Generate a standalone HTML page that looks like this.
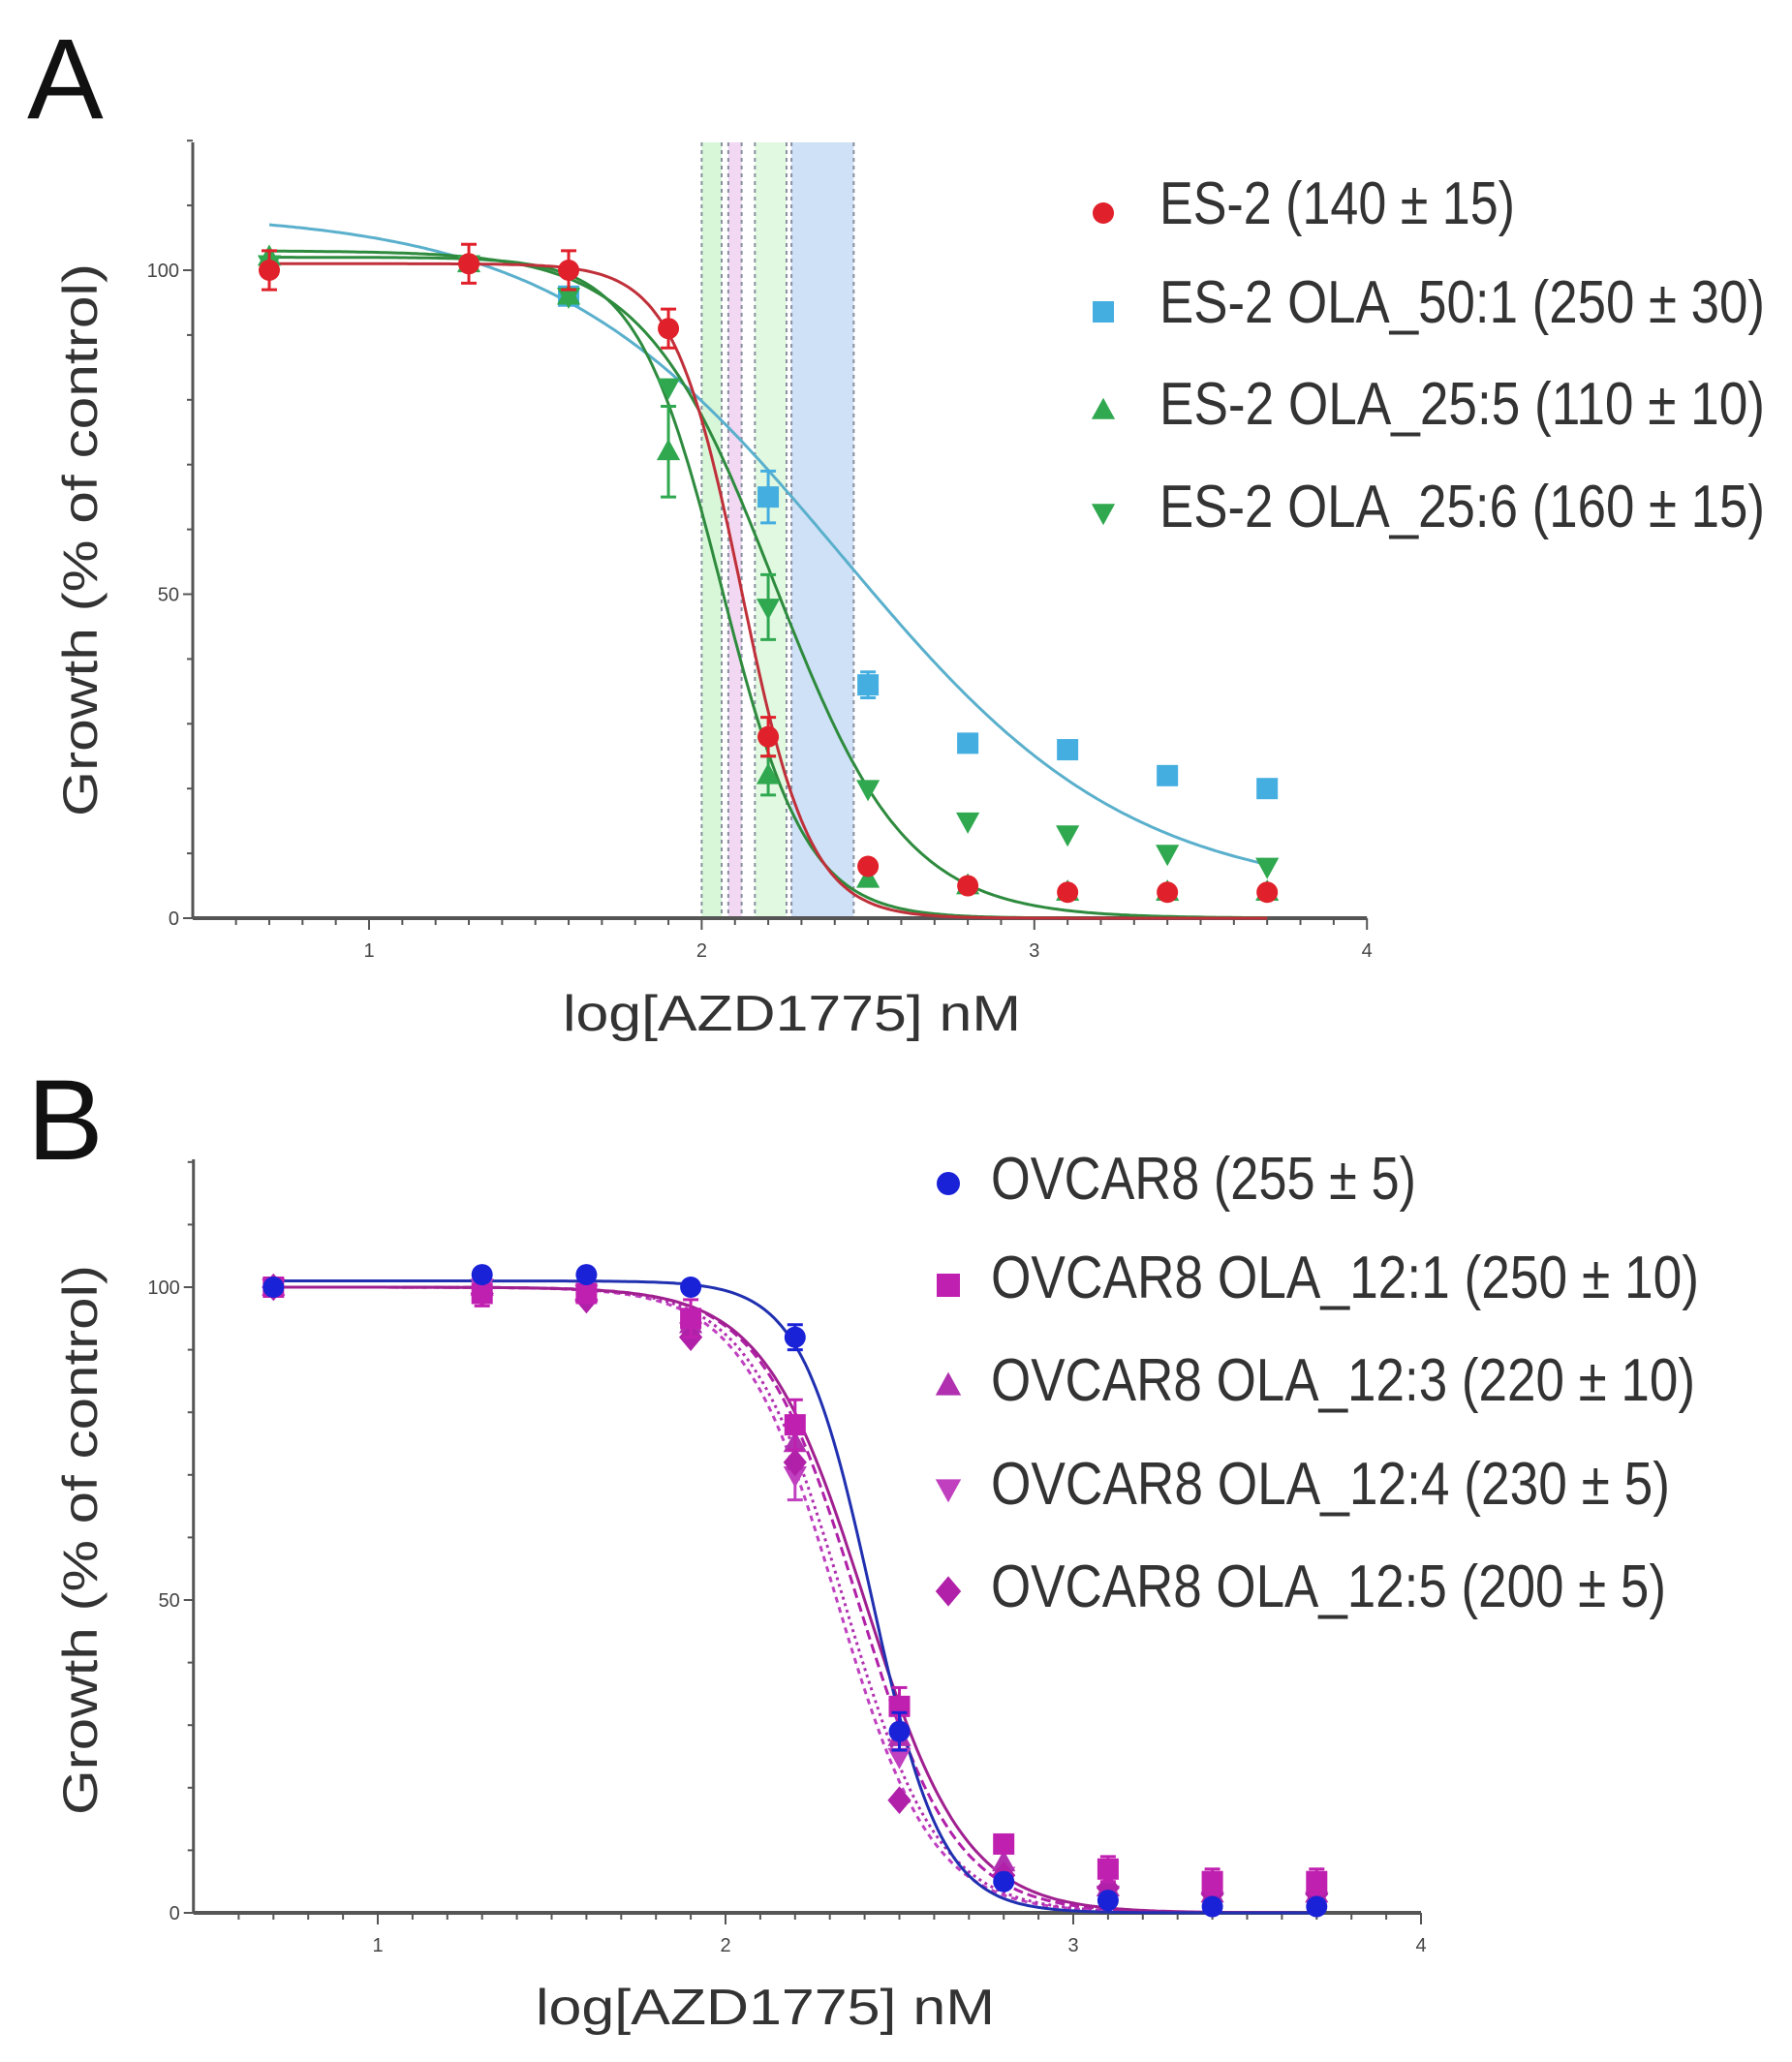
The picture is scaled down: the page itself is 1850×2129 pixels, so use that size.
<!DOCTYPE html>
<html><head><meta charset="utf-8"><style>
html,body{margin:0;padding:0;background:#fff;}
svg{display:block;}
text{font-family:"Liberation Sans",sans-serif;}
</style></head><body>
<svg id="s" width="1850" height="2129" viewBox="0 0 1850 2129" xmlns="http://www.w3.org/2000/svg">
<rect width="1850" height="2129" fill="#fff"/>
<text x="28" y="122" font-size="118" fill="#111">A</text>
<text x="28" y="1197" font-size="118" fill="#111">B</text>
<g id="A"></g>
<g id="B"></g>
<text x="581" y="1064" font-size="52" fill="#333" textLength="473" lengthAdjust="spacingAndGlyphs">log[AZD1775] nM</text>
<text x="553" y="2090" font-size="52" fill="#333" textLength="474" lengthAdjust="spacingAndGlyphs">log[AZD1775] nM</text>
<text transform="translate(100,843) rotate(-90)" font-size="50" fill="#333" textLength="571" lengthAdjust="spacingAndGlyphs">Growth (% of control)</text>
<text transform="translate(100,1874) rotate(-90)" font-size="50" fill="#333" textLength="568" lengthAdjust="spacingAndGlyphs">Growth (% of control)</text>
<g font-size="62" fill="#333">
<text x="1197" y="231" textLength="367" lengthAdjust="spacingAndGlyphs">ES-2 (140 ± 15)</text>
<text x="1197" y="333" textLength="625" lengthAdjust="spacingAndGlyphs">ES-2 OLA_50:1 (250 ± 30)</text>
<text x="1197" y="438" textLength="625" lengthAdjust="spacingAndGlyphs">ES-2 OLA_25:5 (110 ± 10)</text>
<text x="1197" y="544" textLength="625" lengthAdjust="spacingAndGlyphs">ES-2 OLA_25:6 (160 ± 15)</text>
<text x="1023" y="1238" textLength="439" lengthAdjust="spacingAndGlyphs">OVCAR8 (255 ± 5)</text>
<text x="1023" y="1340" textLength="731" lengthAdjust="spacingAndGlyphs">OVCAR8 OLA_12:1 (250 ± 10)</text>
<text x="1023" y="1446" textLength="727" lengthAdjust="spacingAndGlyphs">OVCAR8 OLA_12:3 (220 ± 10)</text>
<text x="1023" y="1553" textLength="701" lengthAdjust="spacingAndGlyphs">OVCAR8 OLA_12:4 (230 ± 5)</text>
<text x="1023" y="1659" textLength="697" lengthAdjust="spacingAndGlyphs">OVCAR8 OLA_12:5 (200 ± 5)</text>
</g>
</svg>
<script>
var NS="http://www.w3.org/2000/svg";
function el(p,t,a){var e=document.createElementNS(NS,t);for(var k in a)e.setAttribute(k,a[k]);p.appendChild(e);return e;}
function marker(g,type,cx,cy,c,r){
 r=r||11;
 if(type=='c')el(g,'circle',{cx:cx,cy:cy,r:r,fill:c});
 else if(type=='s')el(g,'rect',{x:cx-r,y:cy-r,width:2*r,height:2*r,fill:c});
 else if(type=='u')el(g,'polygon',{points:(cx)+','+(cy-r*1.2)+' '+(cx-r*1.1)+','+(cy+r*0.8)+' '+(cx+r*1.1)+','+(cy+r*0.8),fill:c});
 else if(type=='d')el(g,'polygon',{points:(cx)+','+(cy+r*1.2)+' '+(cx-r*1.1)+','+(cy-r*0.8)+' '+(cx+r*1.1)+','+(cy-r*0.8),fill:c});
 else if(type=='m')el(g,'polygon',{points:cx+','+(cy-r*1.3)+' '+(cx+r*1.1)+','+cy+' '+cx+','+(cy+r*1.3)+' '+(cx-r*1.1)+','+cy,fill:c});
}
function panel(g,X,Y,x0,x1,ytop,series,bands){
 (bands||[]).forEach(function(b){
  el(g,'rect',{x:X(b[0]),y:ytop,width:X(b[1])-X(b[0]),height:Y(0)-ytop,fill:b[2],opacity:0.55});
  [b[0],b[1]].forEach(function(v){el(g,'line',{x1:X(v),y1:ytop,x2:X(v),y2:Y(0),stroke:'#8890a0','stroke-width':2,'stroke-dasharray':'4,4'});});
 });
 el(g,'line',{x1:X(x0),y1:ytop,x2:X(x0),y2:Y(0),stroke:'#555','stroke-width':3});
 el(g,'line',{x1:X(x0),y1:Y(0),x2:X(x1),y2:Y(0),stroke:'#555','stroke-width':4});
 for(var p=0;p<=120;p+=10){el(g,'line',{x1:X(x0)-(p%50?6:10),y1:Y(p),x2:X(x0),y2:Y(p),stroke:'#555','stroke-width':2});}
 [0,50,100].forEach(function(p){var t=el(g,'text',{x:X(x0)-14,y:Y(p)+7,'font-size':20,fill:'#444','text-anchor':'end'});t.textContent=p;});
 for(var v=0.6;v<=4.001;v+=0.1){var mj=Math.abs(v-Math.round(v))<0.01;if(v<x0-0.01)continue;
  el(g,'line',{x1:X(v),y1:Y(0),x2:X(v),y2:Y(0)+(mj?12:7),stroke:'#555','stroke-width':2});}
 [1,2,3,4].forEach(function(v){var t=el(g,'text',{x:X(v),y:Y(0)+40,'font-size':20,fill:'#444','text-anchor':'middle'});t.textContent=v;});
 var xs=[0.7,1.3,1.6,1.9,2.2,2.5,2.8,3.1,3.4,3.7];
 series.forEach(function(s){
  var d='';
  for(var v=0.7;v<=3.701;v+=0.01){var y=s.b+(s.t-s.b)/(1+Math.pow(10,(v-s.ic)*s.h));d+=(d?'L':'M')+X(v).toFixed(1)+','+Y(y).toFixed(1);}
  el(g,'path',{d:d,fill:'none',stroke:s.lc||s.c,'stroke-width':3,'stroke-dasharray':s.dash||''});
 });
 series.forEach(function(s){
  s.pts.forEach(function(p,i){
   if(p==null)return;
   if(s.e&&s.e[i]){el(g,'line',{x1:X(xs[i]),y1:Y(p-s.e[i]),x2:X(xs[i]),y2:Y(p+s.e[i]),stroke:s.c,'stroke-width':3});
    el(g,'line',{x1:X(xs[i])-8,y1:Y(p+s.e[i]),x2:X(xs[i])+8,y2:Y(p+s.e[i]),stroke:s.c,'stroke-width':3});
    el(g,'line',{x1:X(xs[i])-8,y1:Y(p-s.e[i]),x2:X(xs[i])+8,y2:Y(p-s.e[i]),stroke:s.c,'stroke-width':3});}
   marker(g,s.m,X(xs[i]),Y(p),s.c,s.r);
  });
 });
}
var A=document.getElementById('A');
var XA=function(v){return 381+(v-1)*343.4;}, YA=function(p){return 948-p*6.69;};
panel(A,XA,YA,0.47,4,147,[
 {c:'#45aee0',lc:'#5ab0cc',m:'s',t:109,b:3,ic:2.42,h:1.0,pts:[null,null,96,null,65,36,27,26,22,20],e:[0,0,0,0,4,2,0,0,0,0]},
 {c:'#2fa84f',lc:'#2e8b3e',m:'u',t:102,b:0,ic:2.06,h:3.4,pts:[102,101,96,72,22,6,5,4,4,4],e:[0,0,0,7,3,0,0,0,0,0]},
 {c:'#2fa84f',lc:'#2e8b3e',m:'d',t:103,b:0,ic:2.22,h:2.2,pts:[101,101,96,82,48,20,15,13,10,8],e:[0,0,0,0,5,0,0,0,0,0]},
 {c:'#e0202a',lc:'#c0303a',m:'c',t:101,b:0,ic:2.12,h:4.2,pts:[100,101,100,91,28,8,5,4,4,4],e:[3,3,3,3,3,0,0,0,0,0]}
],[[2.0,2.06,'#b8f0b8'],[2.08,2.12,'#e8b8e8'],[2.16,2.255,'#c8f4c8'],[2.27,2.457,'#a8c8ee']]);
var B=document.getElementById('B');
var XB=function(v){return 390+(v-1)*359;}, YB=function(p){return 1975-p*6.46;};
panel(B,XB,YB,0.47,4,1197,[
 {c:'#c040c0',m:'d',dash:'6,5',t:100,b:0,ic:2.32,h:3.2,pts:[100,100,99,93,70,25,6,3,2,2],e:[0,0,0,0,4,0,0,0,0,0]},
 {c:'#b030b0',m:'u',dash:'3,4',t:100,b:0,ic:2.34,h:3.2,pts:[100,100,99,94,75,28,8,4,3,3],e:[0,0,0,0,4,0,0,0,0,0]},
 {c:'#b020a8',m:'m',dash:'10,5',t:100,b:0,ic:2.38,h:3.1,pts:[100,99,98,92,72,18,6,4,3,3],e:[0,0,0,0,0,0,0,0,0,0]},
 {c:'#c020b0',lc:'#a02090',m:'s',t:100,b:0,ic:2.4,h:3.0,pts:[100,99,99,95,78,33,11,7,5,5],e:[0,2,0,3,4,3,0,2,2,2]},
 {c:'#1a22d8',lc:'#2030b0',m:'c',t:101,b:0,ic:2.42,h:4.3,pts:[100,102,102,100,92,29,5,2,1,1],e:[0,0,0,0,2,3,0,0,0,0]}
]);
var s=document.getElementById('s');
var la=[['c','#e0202a',220],['s','#45aee0',322],['u','#2fa84f',424],['d','#2fa84f',529]];
la.forEach(function(a){marker(s,a[0],1139,a[2],a[1],11);});
var lb=[['c','#1a22d8',1222],['s','#c020b0',1327],['u','#b030b0',1431],['d','#c040c0',1537],['m','#b020a8',1643]];
lb.forEach(function(a){marker(s,a[0],979,a[2],a[1],12);});
</script>
</body></html>
